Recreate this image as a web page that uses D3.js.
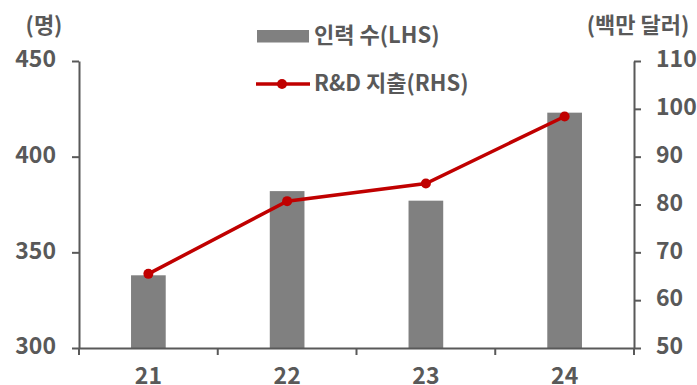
<!DOCTYPE html>
<html>
<head>
<meta charset="utf-8">
<script src="https://cdn.jsdelivr.net/npm/d3@7"></script>
<style>
  html, body { margin: 0; padding: 0; background: #fff; }
  svg text { font-family: "Noto Sans CJK KR", "Noto Sans", sans-serif; fill: #595959; }
</style>
</head>
<body>
<svg id="chart" width="697" height="385"></svg>
<script>
// 연도별 인력 수(명)와 R&D 지출(백만 달러)
const years = ["21", "22", "23", "24"];
const staff = [338, 382, 377, 423];
const rnd = [65.5, 80.7, 84.4, 98.4];
const leftTicks = [300, 350, 400, 450];
const rightTicks = [50, 60, 70, 80, 90, 100, 110];

const svg = d3.select("#chart");
const margin = { left: 79, right: 63, top: 61, bottom: 37 };
const W = 697, H = 385;
const axisColor = "#595959";

const x = d3.scaleBand().domain(years).range([margin.left, W - margin.right]);
const yL = d3.scaleLinear().domain([300, 450]).range([H - margin.bottom, margin.top]);
const yR = d3.scaleLinear().domain([50, 110]).range([H - margin.bottom, margin.top]);

// 막대: 인력 수
const barW = x.bandwidth() * 0.25;
svg.append("g").selectAll("rect").data(years).join("rect")
  .attr("x", (d) => x(d) + x.bandwidth() / 2 - barW / 2)
  .attr("width", barW)
  .attr("y", (d, i) => yL(staff[i]))
  .attr("height", (d, i) => yL(300) - yL(staff[i]))
  .attr("fill", "#808080");

// 축
const gL = svg.append("g").attr("transform", `translate(${margin.left},0)`)
  .call(d3.axisLeft(yL).tickValues(leftTicks).tickSize(7).tickPadding(16).tickSizeOuter(0));
const gR = svg.append("g").attr("transform", `translate(${W - margin.right},0)`)
  .call(d3.axisRight(yR).tickValues(rightTicks).tickSize(7).tickPadding(15).tickSizeOuter(0));
const gB = svg.append("g").attr("transform", `translate(0,${H - margin.bottom})`)
  .call(d3.axisBottom(x).tickSize(0));

// 카테고리 경계 눈금
gB.selectAll(".sep").data([...years.map((d) => x(d)), W - margin.right]).join("line")
  .attr("class", "sep")
  .attr("x1", (d) => d).attr("x2", (d) => d)
  .attr("y1", 0).attr("y2", 7);

[gL, gR, gB].forEach((g) => {
  g.selectAll("path, line").attr("stroke", axisColor).attr("stroke-width", 2);
  g.selectAll("text").attr("font-size", 23).attr("font-weight", "bold")
    .style("font-family", '"Noto Sans CJK KR", sans-serif').attr("fill", "#595959");
});
gL.selectAll("text").attr("dy", "0.25em");
gR.selectAll("text").attr("dy", "0.25em");
gB.selectAll("text").attr("y", 36).attr("dy", 0);

// 선: R&D 지출
const line = d3.line().x((d, i) => x(years[i]) + x.bandwidth() / 2).y((d) => yR(d));
svg.append("path").datum(rnd).attr("d", line)
  .attr("fill", "none").attr("stroke", "#C00000").attr("stroke-width", 3.5);
svg.append("g").selectAll("circle").data(rnd).join("circle")
  .attr("cx", (d, i) => x(years[i]) + x.bandwidth() / 2)
  .attr("cy", (d) => yR(d)).attr("r", 5).attr("fill", "#C00000");

// 단위
svg.append("text").attr("x", 44).attr("y", 33).attr("text-anchor", "middle")
  .attr("font-size", 22).attr("font-weight", "bold").text("(명)");
svg.append("text").attr("x", 638).attr("y", 33).attr("text-anchor", "middle")
  .attr("font-size", 22).attr("font-weight", "bold").text("(백만 달러)");

// 범례
const lg = svg.append("g");
lg.append("rect").attr("x", 257).attr("y", 30).attr("width", 52).attr("height", 12.5).attr("fill", "#808080");
lg.append("text").attr("x", 314).attr("y", 43).attr("font-size", 22).attr("font-weight", "bold").text("인력 수(LHS)");
lg.append("line").attr("x1", 256).attr("x2", 310).attr("y1", 84).attr("y2", 84)
  .attr("stroke", "#C00000").attr("stroke-width", 3.5);
lg.append("circle").attr("cx", 282).attr("cy", 84).attr("r", 5).attr("fill", "#C00000");
lg.append("text").attr("x", 314).attr("y", 91).attr("font-size", 22).attr("font-weight", "bold").text("R&D 지출(RHS)");
</script>
</body>
</html>
